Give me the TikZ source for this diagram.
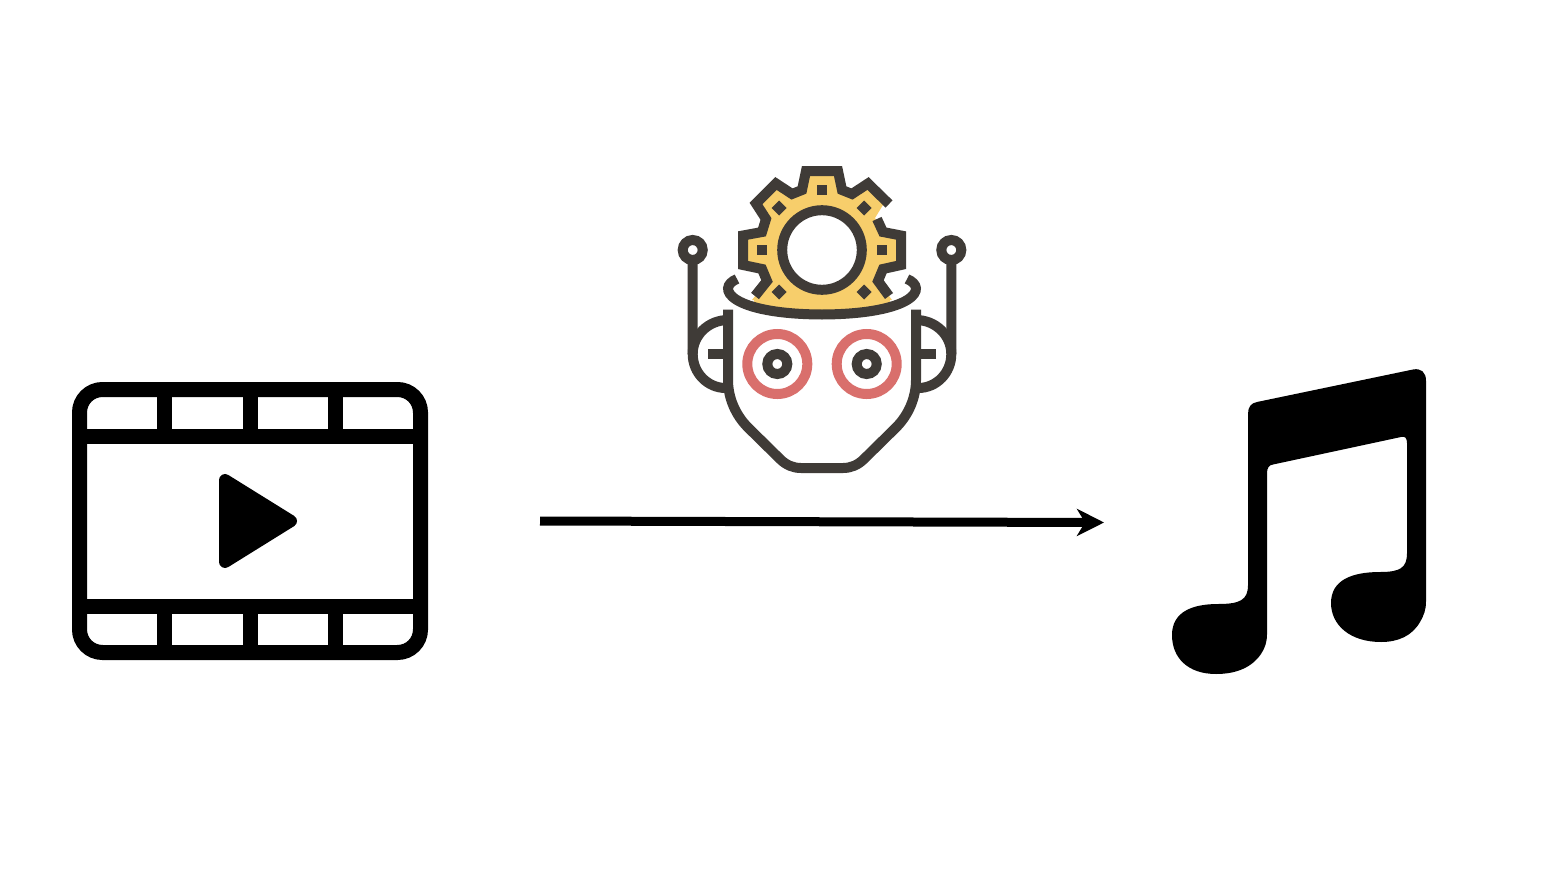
\documentclass[tikz,border=0pt]{standalone}
\usetikzlibrary{arrows.meta}
\definecolor{dark}{HTML}{3F3B37}
\definecolor{gearyellow}{HTML}{F7CE6B}
\definecolor{eyepink}{HTML}{D96F6C}
\tikzset{
  film/.style={draw=black,line width=15pt},
  robot/.style={draw=dark,line width=10pt,line join=miter},
  eyering/.style={draw=eyepink,line width=10pt},
  sq/.style={fill=dark,draw=none},
}
\begin{document}
\begin{tikzpicture}[x=1pt,y=-1pt]
\useasboundingbox (0,0) rectangle (1560,878);
\fill[white] (0,0) rectangle (1560,878);
% film
\draw[film,rounded corners=23pt] (79.5,389.5) rectangle (420.5,652.5);
\draw[film] (80,436.5) -- (420,436.5) (80,606.5) -- (420,606.5);
\draw[film] (164.5,390) -- (164.5,436) (250,390) -- (250,436) (335,390) -- (335,436)
            (164.5,606) -- (164.5,652) (250,606) -- (250,652) (335,606) -- (335,652);
\draw[fill=black,draw=black,line width=12pt,line join=round] (225,480) -- (225,562) -- (291,521) -- cycle;
% arrow
\coordinate (src) at (540,521);
\coordinate (dst) at (1104,522.5);
\draw[line width=9pt,-{Stealth[length=27pt,width=27pt,inset=8pt]}] (src) -- (dst);
% gear fill
\fill[gearyellow] (806,171) -- (838,171) -- (842,188) -- (852,192) -- (868,182) -- (886,200) -- (875,218) -- (883,232) -- (901,235) -- (901,265) -- (883,269) -- (878,281) -- (892,300) -- (752,300) -- (767,281) -- (762,269) -- (743,265) -- (743,235) -- (762,232) -- (769,218) -- (757,200) -- (776,182) -- (792,192) -- (802,188) -- cycle;
\fill[gearyellow] (754,298) rectangle (890,311);
% gear outline
\draw[robot] (889,204) -- (868,183.5) -- (852,194) -- (842,190) -- (838,171) -- (806,171) -- (802,190) -- (792,194) -- (776,183.5) -- (756,203.5) -- (766,219) -- (762,232) -- (743,235.5) -- (743,265) -- (762,269) -- (767,281) -- (755,296);
\draw[robot] (877,219) -- (883,232) -- (901,235.5) -- (901,265) -- (883,269) -- (878,281) -- (889,296);
% ellipse ring
\draw[robot] (737,279) .. controls (715,288) and (730,314) .. (822,314.5) .. controls (914,314) and (929,288) .. (907,279);
% gear hole
\draw[robot,fill=white] (822,250) circle[radius=39.8pt];
\fill[sq] (817,185) rectangle (827,195);
\fill[sq] (757,245) rectangle (767,255);
\fill[sq] (877,245) rectangle (887,255);
\foreach \x/\y in {779/208,864/208,779/292,864/292}
  \fill[sq] (\x-7.5,\y) -- (\x,\y-7.5) -- (\x+7.5,\y) -- (\x,\y+7.5) -- cycle;
% antennae and ears
\draw[robot,fill=white] (692.7,250) circle[radius=10pt];
\draw[robot,fill=white] (951.3,250) circle[radius=10pt];
\draw[robot] (692.7,260) -- (692.7,354) arc[start angle=180,end angle=270,x radius=33pt,y radius=34pt];
\draw[robot] (951.3,260) -- (951.3,354) arc[start angle=0,end angle=-90,x radius=33pt,y radius=34pt];
\draw[robot] (728,320) arc[start angle=90,end angle=180,x radius=35.3pt,y radius=34pt];
\draw[robot] (916,320) arc[start angle=90,end angle=0,x radius=35.3pt,y radius=34pt];
\draw[robot] (708,353.5) -- (726,353.5) (936,353.5) -- (918,353.5);
% head
\draw[robot,line join=round] (728,309.5) -- (728,380) .. controls (728,397) and (735,415) .. (749,428.5) -- (780,459) .. controls (786,465) and (793,468) .. (801,468) -- (843,468) .. controls (851,468) and (858,465) .. (864,459) -- (895,428.5) .. controls (909,415) and (916,397) .. (916,380) -- (916,309.5);
% eyes
\draw[eyering] (777.3,364) circle[radius=30pt];
\draw[eyering] (866.7,364) circle[radius=30pt];
\draw[robot,fill=white] (777.3,364) circle[radius=10pt];
\draw[robot,fill=white] (866.7,364) circle[radius=10pt];
% music note
\fill[black] (1248,414) .. controls (1248,407) and (1251,403) .. (1257,402)
  -- (1413,369.5) .. controls (1421,368) and (1426,372) .. (1426,381)
  -- (1426,601) .. controls (1426,610) and (1424,615) .. (1420,622)
  .. controls (1412,636) and (1398,642) .. (1381,642)
  .. controls (1350,642) and (1331,625) .. (1331,603)
  .. controls (1331,580) and (1352,572) .. (1380,572)
  .. controls (1400,572) and (1407,568) .. (1407,553)
  -- (1407,443) .. controls (1407,438) and (1405,436) .. (1401,437)
  -- (1273,464.5) .. controls (1269,465) and (1267,468) .. (1267,473)
  -- (1267,634) .. controls (1267,642) and (1265,648) .. (1261,654)
  .. controls (1252,667) and (1237,674) .. (1216,674)
  .. controls (1188,674) and (1172,658) .. (1172,635)
  .. controls (1172,612) and (1192,604) .. (1218,604)
  .. controls (1240,604) and (1248,600) .. (1248,585)
  -- cycle;
\end{tikzpicture}
\end{document}
